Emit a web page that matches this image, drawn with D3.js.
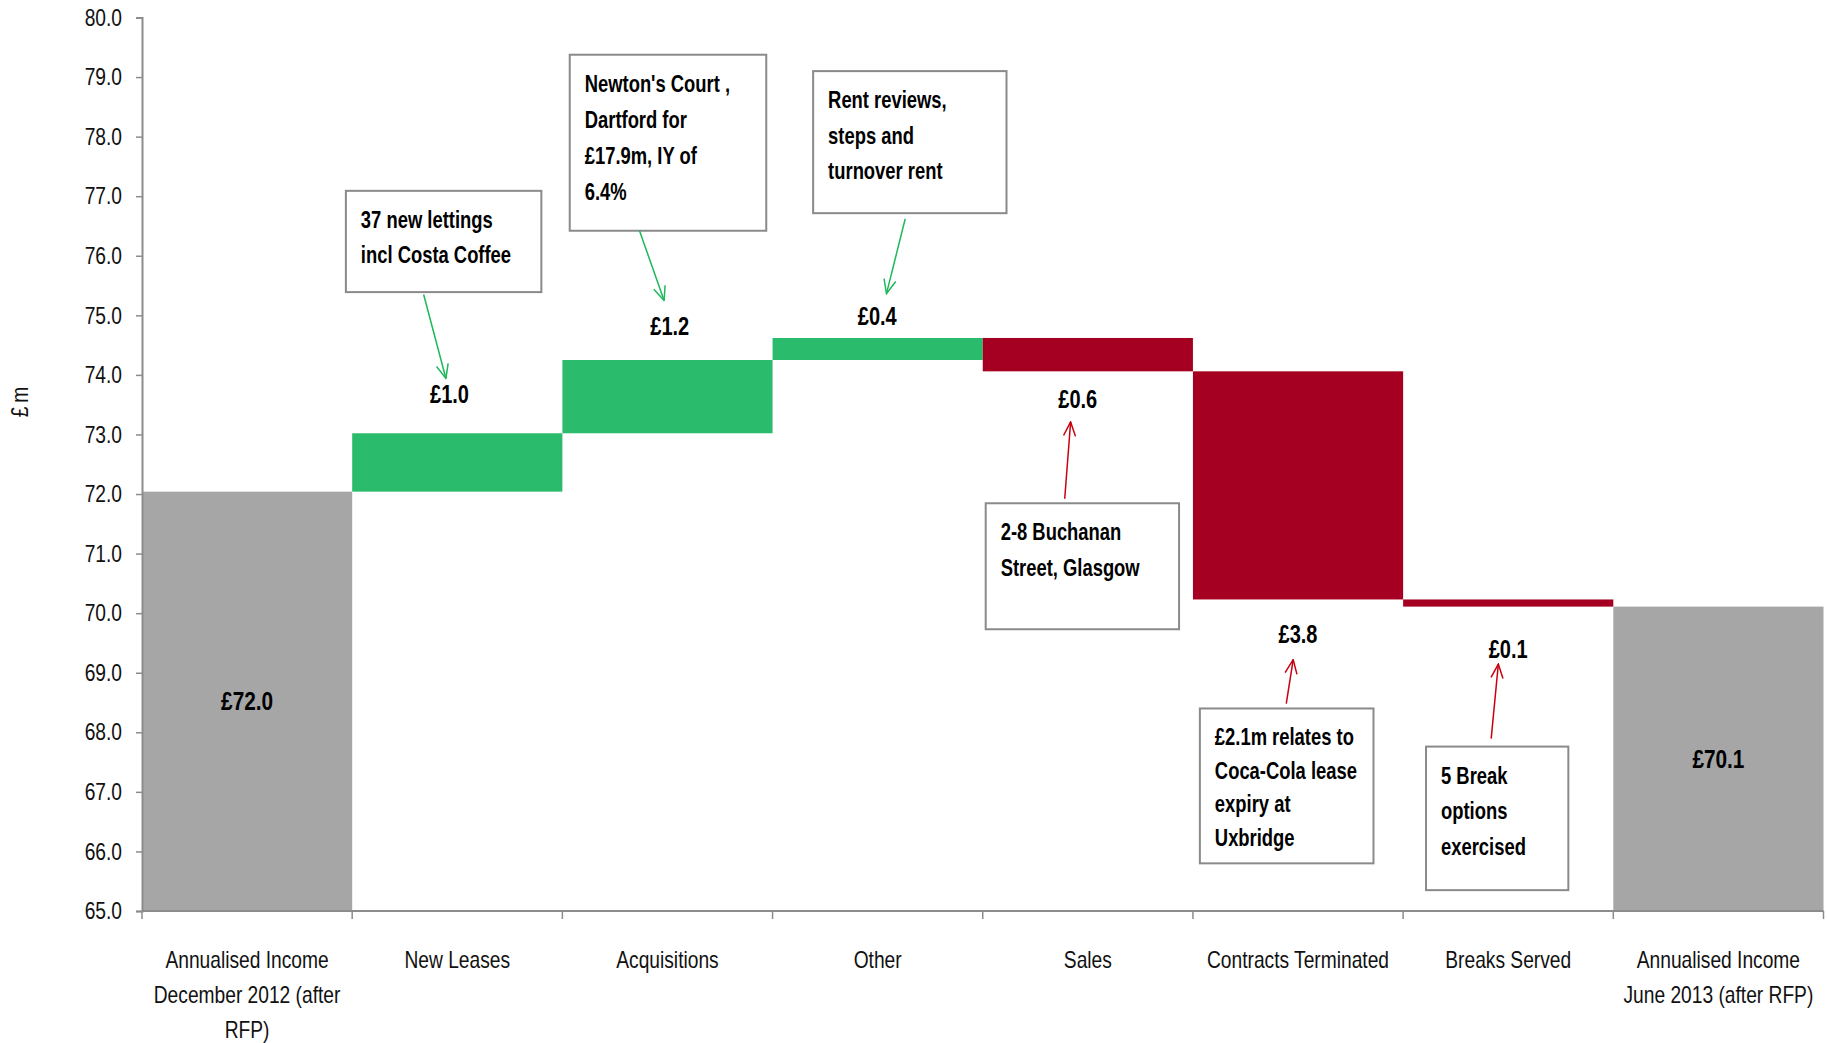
<!DOCTYPE html>
<html>
<head>
<meta charset="utf-8">
<script src="https://cdn.jsdelivr.net/npm/d3@7"></script>
<style>
body { margin: 0; background: #fff; }
text { font-family: "Liberation Sans Narrow", "Liberation Sans", Arial, sans-serif; }
</style>
</head>
<body>
<script>
// chart data
var categories = [
    'Annualised Income December 2012 (after RFP)',
    'New Leases',
    'Acquisitions',
    'Other',
    'Sales',
    'Contracts Terminated',
    'Breaks Served',
    'Annualised Income June 2013 (after RFP)'
];
var startValue = 72.04;
var changes = [0.98, 1.23, 0.37, -0.56, -3.83, -0.12];
var yTickValues = [65, 66, 67, 68, 69, 70, 71, 72, 73, 74, 75, 76, 77, 78, 79, 80];

// call-out notes, one per change bar
var noteTexts = [
    ['37 new lettings', 'incl Costa Coffee'],
    ['Newton\'s Court ,', 'Dartford for', '\u00a317.9m, IY of', '6.4%'],
    ['Rent reviews,', 'steps and', 'turnover rent'],
    ['2-8 Buchanan', 'Street, Glasgow'],
    ['\u00a32.1m relates to', 'Coca-Cola lease', 'expiry at', 'Uxbridge'],
    ['5 Break', 'options', 'exercised']
];

// where the notes sit: band fractions (x) and axis values (y)
var noteLayout = [
    {box: [-0.03, 0.90, 77.09, 75.39], arrow: [0.34, 75.35, 0.446, 73.94], label: [0.463, 73.68], lh: 35},
    {box: [0.035, 0.97, 79.375, 76.42], arrow: [0.367, 76.42, 0.484, 75.25], label: [0.511, 74.82], lh: 36},
    {box: [0.193, 1.113, 79.10, 76.715], arrow: [0.631, 76.62, 0.542, 75.365], label: [0.498, 74.99], lh: 35.5},
    {box: [0.014, 0.934, 71.845, 69.73], arrow: [0.39, 71.92, 0.418, 73.21], label: [0.452, 73.586], lh: 36},
    {box: [0.033, 0.859, 68.40, 65.80], arrow: [0.444, 68.48, 0.477, 69.22], label: [0.5, 69.65], lh: 33.5},
    {box: [0.109, 0.786, 67.76, 65.35], arrow: [0.419, 67.895, 0.453, 69.146], label: [0.5, 69.40], lh: 35.5}
];

var width = 1827,
    height = 1043;

var colors = {total: '#a6a6a6', up: '#2bbb6d', down: '#a50021',
              upArrow: '#1db85a', downArrow: '#c8000f', axis: '#8c8c8c'};

// the source font is a narrow one, so squeeze text horizontally
var squeezeX = 0.8;

function squeeze(sel) {
    sel.each(function() {
        var t = d3.select(this);
        var ax = +t.attr('x') || 0;
        t.attr('transform', 'translate(' + ax + ',0) scale(' + squeezeX + ',1) translate(' + (-ax) + ',0)');
    });
}

var svg = d3.select('body')
    .append('svg')
    .attr('width', width)
    .attr('height', height);

var x = d3.scaleBand()
    .domain(categories)
    .range([142, 1823.5])
    .padding(0);

var y = d3.scaleLinear()
    .domain([65, 80])
    .range([911, 17.5]);

var fmt = d3.format('.1f');

// build waterfall steps
var steps = [];
var running = startValue;
steps.push({cat: categories[0], lo: 65, hi: startValue, type: 'total', v: startValue});
changes.forEach(function(c, i) {
    var next = running + c;
    steps.push({cat: categories[i + 1], lo: Math.min(running, next), hi: Math.max(running, next),
                type: c >= 0 ? 'up' : 'down', v: c});
    running = next;
});
steps.push({cat: categories[categories.length - 1], lo: 65, hi: running, type: 'total', v: running});

svg.append('g')
    .selectAll('rect')
    .data(steps).enter()
    .append('rect')
    .attr('x', d => x(d.cat))
    .attr('width', x.bandwidth())
    .attr('y', d => y(d.hi))
    .attr('height', d => y(d.lo) - y(d.hi))
    .attr('fill', d => colors[d.type]);

// totals labelled inside the bar
svg.append('g')
    .selectAll('text')
    .data(steps.filter(d => d.type === 'total')).enter()
    .append('text')
    .attr('x', d => x(d.cat) + x.bandwidth() / 2)
    .attr('y', d => y((d.lo + d.hi) / 2))
    .attr('dy', '0.35em')
    .attr('text-anchor', 'middle')
    .style('font-size', '26px')
    .style('font-weight', 'bold')
    .text(d => '\u00a3' + fmt(d.v))
    .call(squeeze);

// axes
var yAxis = svg.append('g')
    .attr('transform', 'translate(142,0)')
    .call(d3.axisLeft(y).tickValues(yTickValues).tickFormat(fmt).tickSize(6).tickPadding(14));

yAxis.selectAll('text').style('font-size', '24px').attr('fill', '#111').call(squeeze);
yAxis.select('.domain').attr('stroke', colors.axis).attr('stroke-width', 2);
yAxis.selectAll('.tick line').attr('stroke', colors.axis).attr('stroke-width', 1.5);

var xAxis = svg.append('g')
    .attr('transform', 'translate(0,911)');

xAxis.append('line')
    .attr('x1', 142).attr('x2', 1823.5)
    .attr('stroke', colors.axis).attr('stroke-width', 2);

xAxis.selectAll('line.tick')
    .data(categories.concat(['end'])).enter()
    .append('line')
    .attr('class', 'tick')
    .attr('x1', (d, i) => 142 + i * x.step())
    .attr('x2', (d, i) => 142 + i * x.step())
    .attr('y1', 0).attr('y2', 8)
    .attr('stroke', colors.axis).attr('stroke-width', 1.5);

var xLabels = xAxis.selectAll('text')
    .data(categories).enter()
    .append('text')
    .attr('x', d => x(d) + x.bandwidth() / 2)
    .attr('y', 57)
    .attr('text-anchor', 'middle')
    .style('font-size', '24px')
    .attr('fill', '#111')
    .text(d => d);

xLabels.each(function() { wrap(d3.select(this), x.bandwidth() * 0.97 / squeezeX, 35); });
xLabels.call(squeeze);

svg.append('text')
    .attr('transform', 'translate(20,400) rotate(-90) scale(' + squeezeX + ',1)')
    .attr('text-anchor', 'middle')
    .attr('dy', '0.35em')
    .style('font-size', '24px')
    .style('letter-spacing', '5px')
    .attr('fill', '#111')
    .text('\u00a3m');

function wrap(text, maxWidth, lineHeight) {
    var words = text.text().split(/\s+/),
        cx = text.attr('x'),
        line = [],
        tspan = text.text(null).append('tspan').attr('x', cx).attr('dy', 0);
    words.forEach(function(word) {
        line.push(word);
        tspan.text(line.join(' '));
        if (tspan.node().getComputedTextLength() > maxWidth && line.length > 1) {
            line.pop();
            tspan.text(line.join(' '));
            line = [word];
            tspan = text.append('tspan').attr('x', cx).attr('dy', lineHeight).text(word);
        }
    });
}

// arrow markers
var defs = svg.append('defs');
['up', 'down'].forEach(function(t) {
    defs.append('marker')
        .attr('id', 'arrow-' + t)
        .attr('markerUnits', 'userSpaceOnUse')
        .attr('viewBox', '-1 -7 16 14')
        .attr('markerWidth', 16)
        .attr('markerHeight', 14)
        .attr('refX', 14)
        .attr('refY', 0)
        .attr('orient', 'auto')
        .append('path')
        .attr('d', 'M0,-6L14,0L0,6')
        .attr('fill', 'none')
        .attr('stroke', colors[t + 'Arrow'])
        .attr('stroke-width', 1.5);
});

// notes, arrows and change labels
var notes = steps.slice(1, -1).map(function(s, i) {
    return {step: s, lines: noteTexts[i], layout: noteLayout[i]};
});

var bx = (cat, f) => x(cat) + f * x.bandwidth();

var note = svg.append('g')
    .selectAll('g')
    .data(notes).enter()
    .append('g');

note.append('rect')
    .attr('x', d => bx(d.step.cat, d.layout.box[0]))
    .attr('y', d => y(d.layout.box[2]))
    .attr('width', d => (d.layout.box[1] - d.layout.box[0]) * x.bandwidth())
    .attr('height', d => y(d.layout.box[3]) - y(d.layout.box[2]))
    .attr('fill', '#fff')
    .attr('stroke', '#8a8a8a')
    .attr('stroke-width', 2);

note.append('text')
    .attr('x', d => bx(d.step.cat, d.layout.box[0]) + 15)
    .attr('y', d => y(d.layout.box[2]) + 37)
    .style('font-size', '23px')
    .style('font-weight', 'bold')
    .call(squeeze)
    .selectAll('tspan')
    .data(d => d.lines.map(l => ({t: l, lh: d.layout.lh, x: bx(d.step.cat, d.layout.box[0]) + 15}))).enter()
    .append('tspan')
    .attr('x', d => d.x)
    .attr('dy', (d, i) => i ? d.lh : 0)
    .text(d => d.t);

note.append('line')
    .attr('x1', d => bx(d.step.cat, d.layout.arrow[0]))
    .attr('y1', d => y(d.layout.arrow[1]))
    .attr('x2', d => bx(d.step.cat, d.layout.arrow[2]))
    .attr('y2', d => y(d.layout.arrow[3]))
    .attr('stroke', d => colors[d.step.type + 'Arrow'])
    .attr('stroke-width', 1.5)
    .attr('marker-end', d => 'url(#arrow-' + d.step.type + ')');

note.append('text')
    .attr('x', d => bx(d.step.cat, d.layout.label[0]))
    .attr('y', d => y(d.layout.label[1]))
    .attr('dy', '0.35em')
    .attr('text-anchor', 'middle')
    .style('font-size', '25px')
    .style('font-weight', 'bold')
    .text(d => '\u00a3' + fmt(Math.abs(d.step.v)))
    .call(squeeze);
</script>
</body>
</html>
